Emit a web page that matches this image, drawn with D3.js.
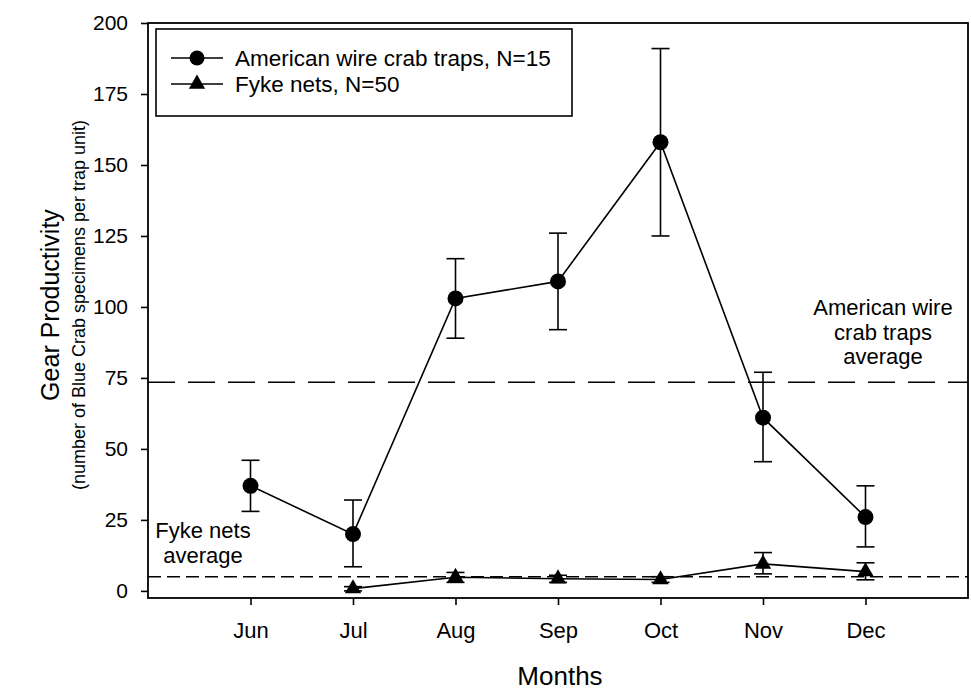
<!DOCTYPE html>
<html>
<head>
<meta charset="utf-8">
<script src="https://cdn.jsdelivr.net/npm/d3@7"></script>
<style>
  body { margin: 0; background: #fff; }
  svg { font-family: "Liberation Sans", Arial, sans-serif; }
  .axis path, .axis line { stroke: #000; stroke-width: 1.6; }
  .axis text { font-size: 22px; fill: #000; font-family: "Liberation Sans", Arial, sans-serif; }
  .yaxis text { font-size: 21px; }
</style>
</head>
<body>
<svg id="chart" width="971" height="691"></svg>
<script>
  const months = ["Jun", "Jul", "Aug", "Sep", "Oct", "Nov", "Dec"];
  const monthNo = [6, 7, 8, 9, 10, 11, 12];

  // American wire crab traps
  const crabMean = [37, 20, 103, 109, 158, 61, 26];
  const crabLow = [28, 8.5, 89, 92, 125, 45.5, 15.5];
  const crabHigh = [46, 32, 117, 126, 191, 77, 37];

  // Fyke nets (no June value)
  const fykeMean = [null, 0.8, 4.8, 4.3, 4.0, 9.5, 6.8];
  const fykeLow = [null, 0, 3, 3, 3, 6, 3.9];
  const fykeHigh = [null, 1.5, 6.5, 5.5, 5, 13.5, 9.9];

  const crabAverage = 73.5;
  const fykeAverage = 5;

  const yTicks = [0, 25, 50, 75, 100, 125, 150, 175, 200];

  const svg = d3.select("#chart");
  const plotL = 148, plotR = 968, plotT = 23, plotB = 598;

  const x = d3.scaleLinear().domain([5, 13]).range([plotL, plotR]);
  const y = d3.scaleLinear().domain([-2.5, 200]).range([plotB, plotT]);

  // frame
  svg.append("rect")
    .attr("x", plotL).attr("y", plotT)
    .attr("width", plotR - plotL).attr("height", plotB - plotT)
    .attr("fill", "none").attr("stroke", "#000").attr("stroke-width", 1.8);

  svg.append("g")
    .attr("class", "axis yaxis")
    .attr("transform", `translate(${plotL},0)`)
    .call(d3.axisLeft(y).tickValues(yTicks).tickSize(7).tickPadding(13).tickSizeOuter(0))
    .call((g) => g.select(".domain").remove());

  svg.append("g")
    .attr("class", "axis")
    .attr("transform", `translate(0,${plotB})`)
    .call(d3.axisBottom(x).tickValues(monthNo).tickFormat((d, i) => months[i])
      .tickSize(7).tickPadding(17).tickSizeOuter(0))
    .call((g) => g.select(".domain").remove());

  // axis titles
  svg.append("text")
    .attr("transform", "translate(59,305) rotate(-90)")
    .attr("text-anchor", "middle")
    .attr("font-size", 25)
    .text("Gear Productivity");
  svg.append("text")
    .attr("transform", "translate(85,305) rotate(-90)")
    .attr("text-anchor", "middle")
    .attr("font-size", 18)
    .text("(number of Blue Crab specimens per trap unit)");
  svg.append("text")
    .attr("x", 560).attr("y", 685)
    .attr("text-anchor", "middle")
    .attr("font-size", 26)
    .text("Months");

  // average lines
  svg.append("line")
    .attr("x1", plotL).attr("x2", plotR)
    .attr("y1", y(crabAverage)).attr("y2", y(crabAverage))
    .attr("stroke", "#000").attr("stroke-width", 1.4)
    .attr("stroke-dasharray", "27,13");
  svg.append("line")
    .attr("x1", plotL).attr("x2", plotR)
    .attr("y1", y(fykeAverage)).attr("y2", y(fykeAverage))
    .attr("stroke", "#000").attr("stroke-width", 1.6)
    .attr("stroke-dasharray", "13,6");

  // annotations
  const crabNote = ["American wire", "crab traps", "average"];
  svg.append("text")
    .attr("text-anchor", "middle")
    .attr("font-size", 22)
    .selectAll("tspan").data(crabNote).enter().append("tspan")
    .attr("x", 883).attr("y", (d, i) => 315 + i * 24.5)
    .text((d) => d);
  const fykeNote = ["Fyke nets", "average"];
  svg.append("text")
    .attr("text-anchor", "middle")
    .attr("font-size", 22)
    .selectAll("tspan").data(fykeNote).enter().append("tspan")
    .attr("x", 203).attr("y", (d, i) => 538 + i * 25)
    .text((d) => d);

  // series
  const crab = monthNo.map((m, i) => ({ m, v: crabMean[i], lo: crabLow[i], hi: crabHigh[i] }));
  const fyke = monthNo.map((m, i) => ({ m, v: fykeMean[i], lo: fykeLow[i], hi: fykeHigh[i] }))
    .filter((d) => d.v !== null);

  const line = d3.line().x((d) => x(d.m)).y((d) => y(d.v));
  const tri = d3.symbol().type(d3.symbolTriangle).size(115);

  function drawSeries(data, marker) {
    const g = svg.append("g");
    g.append("path")
      .datum(data)
      .attr("d", line)
      .attr("fill", "none").attr("stroke", "#000").attr("stroke-width", 1.6);

    const err = g.selectAll(".err").data(data).enter().append("g");
    err.append("line")
      .attr("x1", (d) => x(d.m)).attr("x2", (d) => x(d.m))
      .attr("y1", (d) => y(d.lo)).attr("y2", (d) => y(d.hi))
      .attr("stroke", "#000").attr("stroke-width", 1.6);
    ["lo", "hi"].forEach((k) => {
      err.append("line")
        .attr("x1", (d) => x(d.m) - 9).attr("x2", (d) => x(d.m) + 9)
        .attr("y1", (d) => y(d[k])).attr("y2", (d) => y(d[k]))
        .attr("stroke", "#000").attr("stroke-width", 1.6);
    });

    if (marker === "circle") {
      g.selectAll(".pt").data(data).enter().append("circle")
        .attr("cx", (d) => x(d.m)).attr("cy", (d) => y(d.v))
        .attr("r", 8).attr("fill", "#000");
    } else {
      g.selectAll(".pt").data(data).enter().append("path")
        .attr("d", tri)
        .attr("transform", (d) => `translate(${x(d.m)},${y(d.v)})`)
        .attr("fill", "#000");
    }
  }

  drawSeries(crab, "circle");
  drawSeries(fyke, "triangle");

  // legend
  const legend = svg.append("g");
  legend.append("rect")
    .attr("x", 156).attr("y", 29).attr("width", 416).attr("height", 87)
    .attr("fill", "#fff").attr("stroke", "#000").attr("stroke-width", 1.6);
  const items = [
    { label: "American wire crab traps, N=15", marker: "circle" },
    { label: "Fyke nets, N=50", marker: "triangle" },
  ];
  items.forEach((it, i) => {
    const ly = 58 + i * 26;
    legend.append("line")
      .attr("x1", 171).attr("x2", 223).attr("y1", ly).attr("y2", ly)
      .attr("stroke", "#000").attr("stroke-width", 1.6);
    if (it.marker === "circle") {
      legend.append("circle").attr("cx", 197).attr("cy", ly).attr("r", 7.5).attr("fill", "#000");
    } else {
      legend.append("path").attr("d", tri).attr("transform", `translate(197,${ly})`).attr("fill", "#000");
    }
    legend.append("text")
      .attr("x", 235).attr("y", ly + 8)
      .attr("font-size", 22.5)
      .text(it.label);
  });
</script>
</body>
</html>
